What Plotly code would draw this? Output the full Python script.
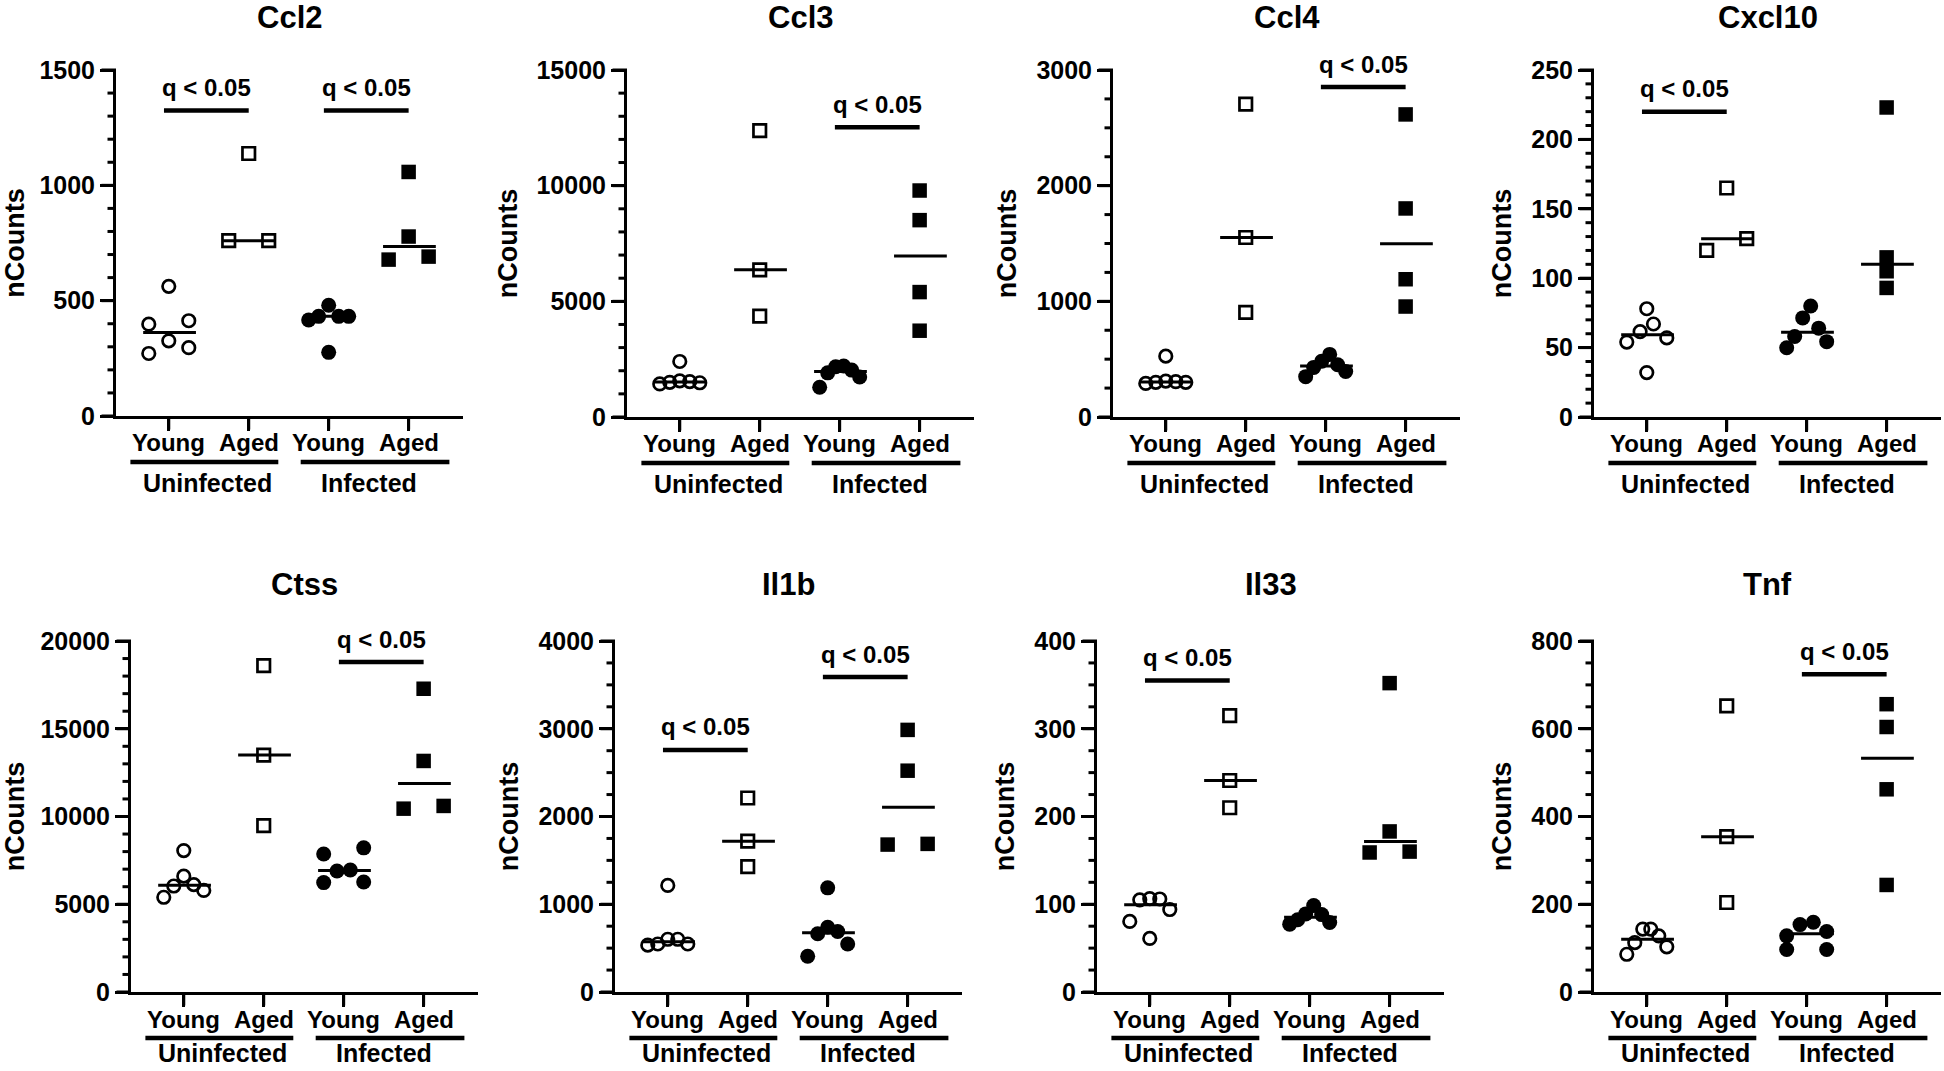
import numpy as np
import plotly.graph_objects as go

W, H = 1944, 1071
FONT = "Liberation Sans, Arial, Helvetica, sans-serif"
TICK_COLOR = "black"

genes = ["Ccl2", "Ccl3", "Ccl4", "Cxcl10", "Ctss", "Il1b", "Il33", "Tnf"]
x_labels = ["Young", "Aged", "Young", "Aged"]
group_labels = ["Uninfected", "Infected"]

# nCounts, per gene:
# [Young Uninfected, Aged Uninfected, Young Infected, Aged Infected]
ccl2 = [[562, 413, 398, 326, 296, 271], [1138, 760, 760],
        [480, 432, 432, 432, 416, 276], [1058, 778, 691, 678]]
ccl3 = [[2400, 1560, 1530, 1500, 1480, 1430], [12380, 6360, 4360],
        [2204, 2175, 2027, 1908, 1731, 1287], [9790, 8510, 5400, 3730]]
ccl4 = [[526, 310, 305, 300, 300, 290], [2705, 1552, 905],
        [541, 482, 452, 429, 393, 349], [2616, 1803, 1191, 955]]
cxcl10 = [[78, 67, 61.5, 57, 54, 32], [165, 120, 128.5],
          [80, 71.4, 64, 58, 54.3, 49.9], [223, 115, 105, 93]]
ctss = [[8058, 6602, 6117, 6039, 5786, 5398], [18600, 13500, 9480],
        [8214, 7864, 6951, 6893, 6272, 6233], [17280, 13165, 10602, 10447]]
il1b = [[1214, 601, 601, 547, 547, 534], [2211, 1719, 1428],
        [1187, 737, 690, 663, 547, 407], [2987, 2522, 1688, 1680]]
il33 = [[106.4, 106, 105, 94, 80.4, 61], [315, 241, 210],
        [98.6, 89, 88.2, 82.3, 79.2, 77.3], [352, 183, 160, 159]]
tnf = [[143.5, 143.5, 128, 112.5, 103, 86], [652, 354, 204],
       [159, 153.6, 138, 128, 97, 97], [656, 604, 462, 244]]
gene_data = [ccl2, ccl3, ccl4, cxcl10, ctss, il1b, il33, tnf]

# y axis scales
y_max = [1500, 15000, 3000, 250, 20000, 4000, 400, 800]
y_major = [500, 5000, 1000, 50, 5000, 1000, 100, 200]
y_minor = [100, 1000, 250, 10, 1000, 250, 25, 50]

# significance comparisons: group index (0 Uninfected, 1 Infected) and level
sig_groups = [[0, 1], [1], [1], [0], [1], [0, 1], [0], [1]]
sig_levels = [[1324, 1324], [12530], [2852], [220], [18800], [2758, 3589], [355], [724]]
sig_text = "q &lt; 0.05"

# ---------------- layout geometry (pixels) ----------------
panel_left = [116, 627, 1113, 1594, 131, 615, 1097, 1594]
panel_top = [70, 70, 70, 70, 641, 641, 641, 641]
panel_zero = [416, 417, 417, 417, 992, 992, 992, 992]
title_shift = [52, 52, 52, 52, 57, 57, 57, 57]
group_label_drop = [67, 67, 67, 67, 61, 61, 61, 61]
PANEL_W = 347
XR = (-0.66, 3.68)
PX_PER_CAT = PANEL_W / (XR[1] - XR[0])
MAJOR_LEN, MINOR_LEN, XTICK_LEN, TICK_W = 13, 7, 12, 3


def swarm_offsets(vals, ppu, T=13.0, width=40.0):
    """Prism-like horizontal spreading of close points (offsets in category units)."""
    vals = np.asarray(vals, float)
    order = np.argsort(-vals, kind="stable")
    rows, cur = [], [order[0]]
    for a, b in zip(order[:-1], order[1:]):
        if (vals[a] - vals[b]) * ppu < T:
            cur.append(b)
        else:
            rows.append(cur)
            cur = [b]
    rows.append(cur)
    off = np.zeros(len(vals))
    for r in rows:
        n = len(r)
        if n == 1:
            continue
        s = width / (n - 1)
        pos = sorted([(i - (n - 1) / 2) * s for i in range(n)], key=lambda p: (abs(p), -p))
        for idx, p in zip(r, pos):
            off[idx] = p
    return off / PX_PER_CAT


styles = [
    dict(symbol="circle-open", size=12.5, color="black", line=dict(width=2.7, color="black")),
    dict(symbol="square-open", size=12.5, color="black", line=dict(width=2.7, color="black")),
    dict(symbol="circle", size=15, color="black", line=dict(width=0)),
    dict(symbol="square", size=14.5, color="black", line=dict(width=0)),
]


def bold(size):
    return dict(family=FONT, size=size, color="black", weight="bold")


fig = go.Figure()
layout = dict(width=W, height=H, margin=dict(l=0, r=0, t=0, b=0),
              paper_bgcolor="white", plot_bgcolor="white", showlegend=False,
              font=bold(24))
annotations, shapes = [], []

for k, gene in enumerate(genes):
    n = k + 1
    xa = "x" if n == 1 else f"x{n}"
    ya = "y" if n == 1 else f"y{n}"
    xd, yd = f"{xa} domain", f"{ya} domain"
    plot_h = panel_zero[k] - panel_top[k]
    ppu = plot_h / y_max[k]

    layout["xaxis" if n == 1 else f"xaxis{n}"] = dict(
        domain=[panel_left[k] / W, (panel_left[k] + PANEL_W) / W], range=list(XR),
        anchor=ya, tickmode="array", tickvals=[0, 1, 2, 3], showticklabels=False,
        ticks="outside", ticklen=XTICK_LEN, tickwidth=TICK_W, tickcolor="black",
        showline=True, linewidth=3, linecolor="black", showgrid=False, zeroline=False,
        automargin=False, fixedrange=True)
    layout["yaxis" if n == 1 else f"yaxis{n}"] = dict(
        domain=[(H - panel_zero[k]) / H, (H - panel_top[k]) / H], range=[0, y_max[k]],
        anchor=xa, tickmode="linear", tick0=0, dtick=y_major[k], tickformat="d",
        ticks="outside", ticklen=MAJOR_LEN, tickwidth=TICK_W, tickcolor="black",
        showline=True, linewidth=3, linecolor="black", showgrid=False, zeroline=False,
        tickfont=bold(25),
        title=dict(text="nCounts", font=bold(27), standoff=12),
        automargin=False, fixedrange=True)

    # tick marks (major + minor on y, category ticks on x) in axis-domain coordinates
    for v in np.arange(0, y_max[k] + 1e-9, y_minor[k]):
        is_major = abs(v / y_major[k] - round(v / y_major[k])) < 1e-6
        L = MAJOR_LEN if is_major else MINOR_LEN
        f = v / y_max[k]
        shapes.append(dict(type="line", xref=xd, yref=yd, x0=-(L + 1.5) / PANEL_W, x1=0,
                           y0=f, y1=f, line=dict(color=TICK_COLOR, width=TICK_W)))
    for c in range(4):
        f = (c - XR[0]) / (XR[1] - XR[0])
        shapes.append(dict(type="line", xref=xd, yref=yd, x0=f, x1=f,
                           y0=0, y1=-(XTICK_LEN + 1.5) / plot_h,
                           line=dict(color=TICK_COLOR, width=TICK_W)))

    # groups: median line + points
    for c, vals in enumerate(gene_data[k]):
        med = float(np.median(vals))
        fig.add_trace(go.Scatter(x=[c - 0.32, c + 0.34], y=[med, med], mode="lines",
                                 line=dict(color="black", width=3), xaxis=xa, yaxis=ya,
                                 hoverinfo="skip"))
        offs = swarm_offsets(vals, ppu)
        fig.add_trace(go.Scatter(x=c + offs, y=vals, mode="markers", marker=styles[c],
                                 xaxis=xa, yaxis=ya, cliponaxis=False, hoverinfo="skip"))
        annotations.append(dict(x=c, y=-27 / plot_h, xref=xa, yref=yd,
                                text=x_labels[c], showarrow=False, yanchor="middle",
                                font=bold(24)))

    # significance bars
    for g, lv in zip(sig_groups[k], sig_levels[k]):
        c0 = 2 * g
        fig.add_trace(go.Scatter(x=[c0 - 0.06, c0 + 1.0], y=[lv, lv], mode="lines",
                                 line=dict(color="black", width=4.5), xaxis=xa, yaxis=ya,
                                 hoverinfo="skip"))
        annotations.append(dict(x=c0 + 0.47, y=lv, xref=xa, yref=ya, text=sig_text,
                                showarrow=False, yanchor="middle", yshift=23, font=bold(24)))

    # title
    annotations.append(dict(x=0.5, y=1, xref=xd, yref=yd, text=gene, showarrow=False,
                            yanchor="middle", yshift=title_shift[k], font=bold(31)))

    # group underlines and labels
    spans = [(-0.48, 1.37), (1.65, 3.51)]
    centers = [0.49, 2.51]
    for g in range(2):
        a, b = spans[g]
        shapes.append(dict(type="line", xref=xd, yref=yd,
                           x0=(a - XR[0]) / (XR[1] - XR[0]), x1=(b - XR[0]) / (XR[1] - XR[0]),
                           y0=-46 / plot_h, y1=-46 / plot_h,
                           line=dict(color="black", width=4.5)))
        annotations.append(dict(x=centers[g], y=-group_label_drop[k] / plot_h, xref=xa,
                                yref=yd, text=group_labels[g], showarrow=False,
                                yanchor="middle", font=bold(25)))

layout["annotations"] = annotations
layout["shapes"] = shapes
fig.update_layout(**layout)
# remove the page's default body margin so the 1944x1071 figure fills the window exactly
fig.write_html("out.html",
               config={"displayModeBar": False, "staticPlot": True},
               post_script="document.body.style.margin='0px';"
                           "document.body.style.overflow='hidden';")
